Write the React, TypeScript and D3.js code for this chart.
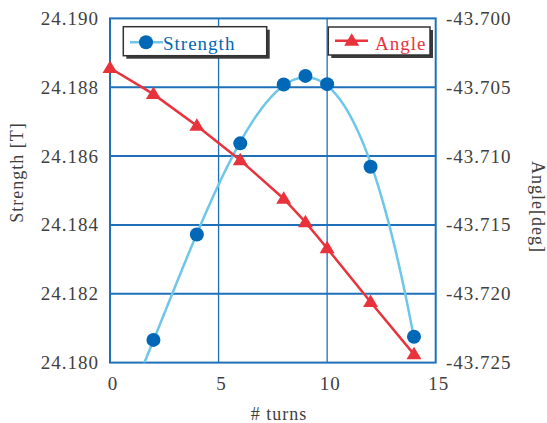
import React from "react";
import * as d3 from "d3";

const turnsStrength = [2, 4, 6, 8, 9, 10, 12, 14];
const strengthValues = [24.18066, 24.18372, 24.18637, 24.18808, 24.18833, 24.18809, 24.18569, 24.18075];
const turnsAngle = [0, 2, 4, 6, 8, 9, 10, 12, 14];
const angleValues = [-43.7036, -43.7055, -43.7078, -43.7103, -43.7131, -43.7148, -43.7167, -43.7206, -43.7244];
const xTicks = [0, 5, 10, 15];
const leftTicks = [24.18, 24.182, 24.184, 24.186, 24.188, 24.19];
const rightTicks = [-43.7, -43.705, -43.71, -43.715, -43.72, -43.725];

const W = 547, H = 423;
const L = 110, R = 435.7, T = 18.4, B = 362.6;
const FRAME = "#1f70b8";
const DARKBLUE = "#0068b7";
const LIGHTBLUE = "#6ec6e8";
const RED = "#e8333c";
const TXT = "#404040";
const FONT = "Liberation Serif, serif";

// least squares polynomial fit
function polyFit(xs: number[], ys: number[], deg: number): number[] {
  const n = deg + 1;
  const x0 = 8;
  const A: number[][] = [];
  for (let i = 0; i < n; i++) {
    A.push(new Array(n + 1).fill(0));
  }
  for (let k = 0; k < xs.length; k++) {
    const x = xs[k] - x0;
    for (let i = 0; i < n; i++) {
      for (let j = 0; j < n; j++) A[i][j] += Math.pow(x, i + j);
      A[i][n] += Math.pow(x, i) * ys[k];
    }
  }
  for (let i = 0; i < n; i++) {
    let p = i;
    for (let r = i + 1; r < n; r++) if (Math.abs(A[r][i]) > Math.abs(A[p][i])) p = r;
    [A[i], A[p]] = [A[p], A[i]];
    for (let r = 0; r < n; r++) {
      if (r === i) continue;
      const f = A[r][i] / A[i][i];
      for (let c = i; c <= n; c++) A[r][c] -= f * A[i][c];
    }
  }
  return A.map((row, i) => row[n] / row[i]);
}

const ts = (size: number, color: string): React.CSSProperties => ({
  fontFamily: FONT,
  fontSize: size,
  letterSpacing: 1,
  fill: color,
});

export default function App() {
  const x = d3.scaleLinear().domain([0, 15]).range([L, R]);
  const yS = d3.scaleLinear().domain([24.18, 24.19]).range([B, T]);
  const yA = d3.scaleLinear().domain([-43.725, -43.7]).range([B, T]);

  const base = 24.18;
  const coef = polyFit(turnsStrength, strengthValues.map((v) => (v - base) * 1000), 3);
  const fitX = d3.range(0, 14.001, 0.05);
  const fitPts: [number, number][] = fitX.map((t) => {
    const u = t - 8;
    const v = coef.reduce((s, c, i) => s + c * Math.pow(u, i), 0);
    return [x(t), yS(base + v / 1000)];
  });
  const line = d3.line();
  const angleLine = d3.line<number>()
    .x((_, i) => x(turnsAngle[i]))
    .y((d) => yA(d));

  const tri = (cx: number, cy: number) =>
    `M${cx},${cy - 7.5}L${cx + 7.5},${cy + 5}L${cx - 7.5},${cy + 5}Z`;

  return (
    <svg width={W} height={H} style={{ position: "absolute", left: 0, top: 0, background: "#fff", fontFamily: FONT }}>
      <defs>
        <clipPath id="plotclip">
          <rect x={L} y={T} width={R - L} height={B - T} />
        </clipPath>
      </defs>
      <rect x={0} y={0} width={W} height={H} fill="#fff" />
      {/* grid */}
      {xTicks.slice(1, -1).map((t) => (
        <line key={"vx" + t} x1={x(t)} x2={x(t)} y1={T} y2={B} stroke={FRAME} strokeWidth={1.3} />
      ))}
      {leftTicks.slice(1, -1).map((t) => (
        <line key={"hy" + t} x1={L} x2={R} y1={yS(t)} y2={yS(t)} stroke={FRAME} strokeWidth={2} />
      ))}
      <rect x={L} y={T} width={R - L} height={B - T} fill="none" stroke={FRAME} strokeWidth={2} />

      {/* tick labels */}
      {leftTicks.map((t) => (
        <text key={"lt" + t} x={99} y={yS(t) + 6.5} textAnchor="end" style={ts(19, TXT)}>
          {d3.format(".3f")(t)}
        </text>
      ))}
      {rightTicks.map((t) => (
        <text key={"rt" + t} x={446} y={yA(t) + 6.5} textAnchor="start" style={ts(19, TXT)}>
          {d3.format(".3f")(t).replace("−", "-")}
        </text>
      ))}
      {xTicks.map((t) => (
        <text key={"xt" + t} x={x(t) + 3} y={390} textAnchor="middle" style={ts(19, TXT)}>
          {t}
        </text>
      ))}

      {/* axis titles */}
      <text x={279} y={420} textAnchor="middle" style={ts(18, TXT)}># turns</text>
      <text transform={`translate(23,${172.5}) rotate(-90)`} textAnchor="middle" style={ts(18, TXT)}>
        Strength [T]
      </text>
      <text transform={`translate(532,${207}) rotate(90)`} textAnchor="middle" style={ts(18, TXT)}>
        Angle[deg]
      </text>

      {/* strength fit curve */}
      <g clipPath="url(#plotclip)">
        <path d={line(fitPts) || ""} fill="none" stroke={LIGHTBLUE} strokeWidth={2.5} />
      </g>
      {/* angle line */}
      <path d={angleLine(angleValues) || ""} fill="none" stroke={RED} strokeWidth={2.5} />
      {strengthValues.map((v, i) => (
        <circle key={"sc" + i} cx={x(turnsStrength[i])} cy={yS(v)} r={7} fill={DARKBLUE} />
      ))}
      {angleValues.map((v, i) => (
        <path key={"at" + i} d={tri(x(turnsAngle[i]), yA(v))} fill={RED} />
      ))}

      {/* legends */}
      <rect x={126.3} y={29.7} width={143.4} height={29} fill="#3a3a3a" />
      <rect x={123.3} y={26.7} width={143.4} height={29} fill="#fff" stroke="#333" strokeWidth={1.5} />
      <line x1={130} x2={163} y1={42.3} y2={42.3} stroke={LIGHTBLUE} strokeWidth={2.5} />
      <circle cx={146} cy={42.3} r={7} fill={DARKBLUE} />
      <text x={163} y={50} style={ts(19, DARKBLUE)}>Strength</text>

      <rect x={331.3} y={30} width={101.7} height={28} fill="#3a3a3a" />
      <rect x={328.3} y={27} width={101.7} height={28} fill="#fff" stroke="#333" strokeWidth={1.5} />
      <line x1={335} x2={368} y1={40.7} y2={40.7} stroke={RED} strokeWidth={2.5} />
      <path d={tri(351.7, 40.7)} fill={RED} />
      <text x={375} y={49.5} style={ts(19, RED)}>Angle</text>
    </svg>
  );
}
